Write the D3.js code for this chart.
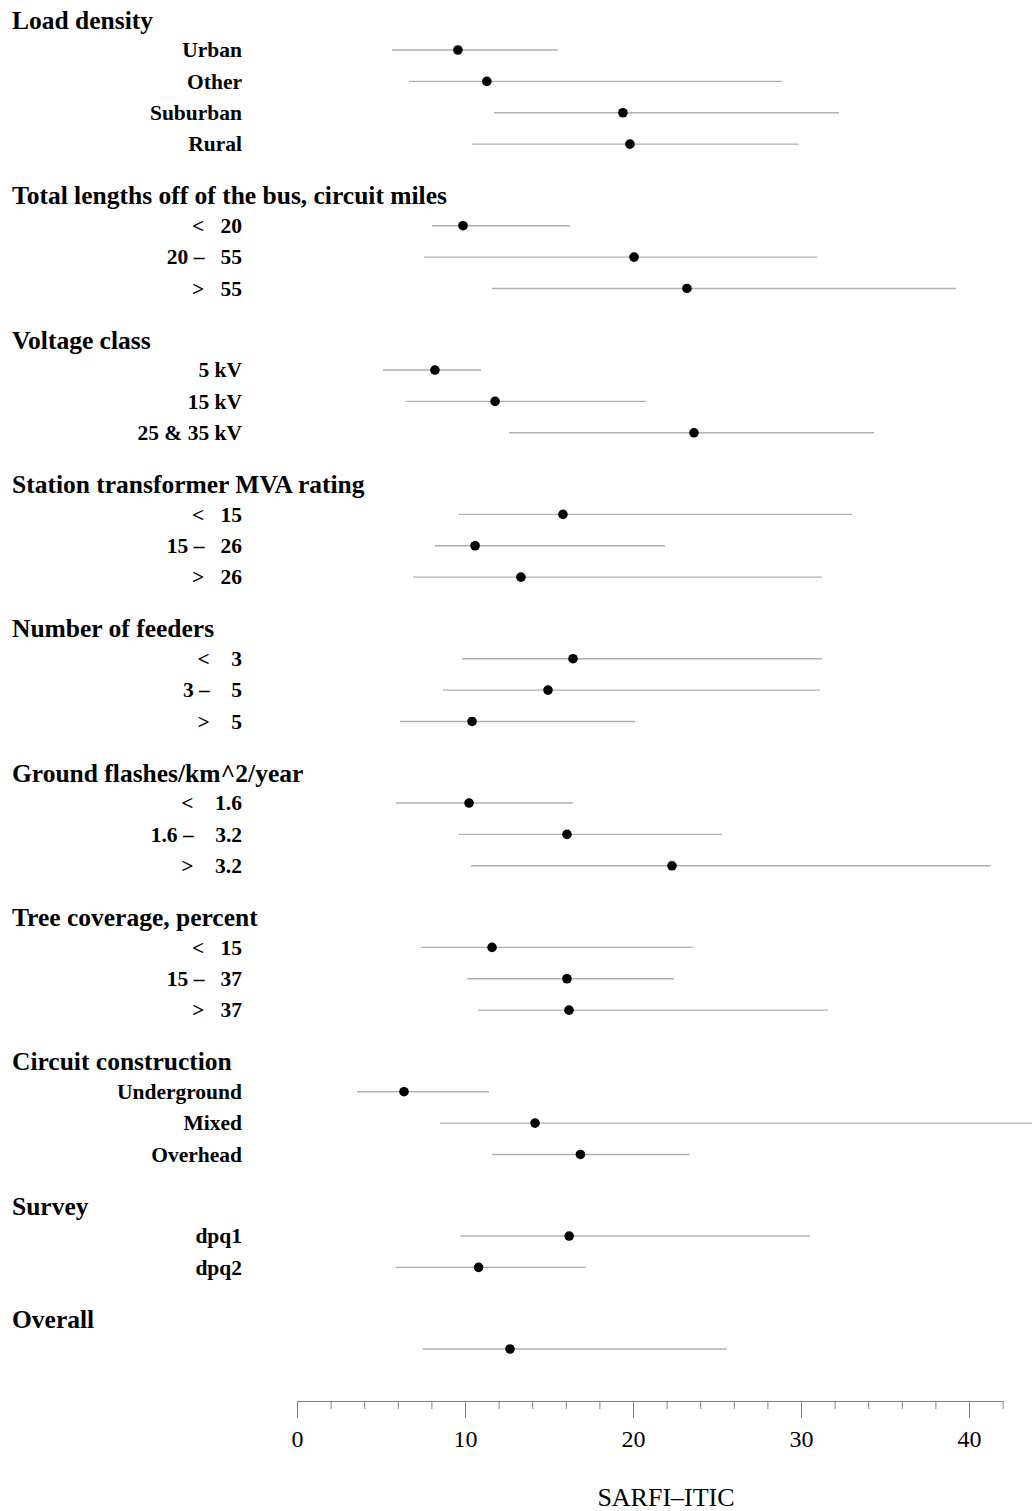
<!DOCTYPE html>
<html>
<head>
<meta charset="utf-8">
<script src="https://cdn.jsdelivr.net/npm/d3@7"></script>
<style>
  body { margin: 0; background: #fff; }
  text { font-family: "Liberation Serif", "Times New Roman", serif; }
  .lab { white-space: pre; }
</style>
</head>
<body>
<div id="chart"></div>
<script>
// groups shown as bold headings
var groups = [
    "Load density",
    "Total lengths off of the bus, circuit miles",
    "Voltage class",
    "Station transformer MVA rating",
    "Number of feeders",
    "Ground flashes/km^2/year",
    "Tree coverage, percent",
    "Circuit construction",
    "Survey",
    "Overall"
];

// one entry per row
var rowGroup = [0, 0, 0, 0, 1, 1, 1, 2, 2, 2, 3, 3, 3, 4, 4, 4, 5, 5, 5, 6, 6, 6, 7, 7, 7, 8, 8, 9];
var rowLabels = [
    "Urban", "Other", "Suburban", "Rural",
    "<   20", "20 \u2013   55", ">   55",
    "5 kV", "15 kV", "25 & 35 kV",
    "<   15", "15 \u2013   26", ">   26",
    "<    3", "3 \u2013    5", ">    5",
    "<    1.6", "1.6 \u2013    3.2", ">    3.2",
    "<   15", "15 \u2013   37", ">   37",
    "Underground", "Mixed", "Overhead",
    "dpq1", "dpq2",
    ""
];
var estimate = [9.58, 11.3, 19.4, 19.82,
    9.88, 20.06, 23.21,
    8.21, 11.79, 23.63,
    15.83, 10.6, 13.33,
    16.43, 14.94, 10.42,
    10.24, 16.07, 22.32,
    11.61, 16.07, 16.19,
    6.37, 14.17, 16.87,
    16.2, 10.81,
    12.68];
var lower = [5.65, 6.67, 11.73, 10.42,
    8.04, 7.56, 11.61,
    5.12, 6.49, 12.62,
    9.64, 8.21, 6.9,
    9.82, 8.69, 6.13,
    5.89, 9.64, 10.36,
    7.38, 10.12, 10.77,
    3.57, 8.51, 11.62,
    9.72, 5.87,
    7.48];
var upper = [15.54, 28.87, 32.26, 29.88,
    16.25, 30.95, 39.23,
    10.95, 20.77, 34.35,
    33.04, 21.9, 31.25,
    31.25, 31.13, 20.12,
    16.43, 25.3, 41.31,
    23.57, 22.44, 31.61,
    11.43, 46, 23.37,
    30.54, 17.2,
    25.58];

var majorTicks = [0, 10, 20, 30, 40];
var minorTicks = d3.range(0, 43, 2);
var xTitle = "SARFI\u2013ITIC";

var width = 1032, height = 1511;

var svg = d3.select("#chart")
    .append("svg")
    .attr("width", width)
    .attr("height", height);

var x = d3.scaleLinear()
    .domain([0, 42])
    .range([297, 1002.6]);

// row positions: 1 unit inside a group, bigger gap between groups
var pos = [], p = 0;
rowGroup.forEach(function(g, i) {
    if (i > 0) p += (g !== rowGroup[i - 1]) ? 2.6 : 1;
    pos.push(p);
});
var y = d3.scaleLinear()
    .domain([0, p])
    .range([50, 1349]);

// group headings
groups.forEach(function(name, gi) {
    var first = rowGroup.indexOf(gi);
    svg.append("text")
        .attr("x", 12)
        .attr("y", y(pos[first] - 0.96))
        .attr("dy", "0.34em")
        .style("font-size", "25.5px")
        .style("font-weight", "bold")
        .text(name);
});

// row labels
svg.selectAll(".lab")
    .data(rowLabels)
    .enter()
    .append("text")
    .attr("class", "lab")
    .attr("x", 242)
    .attr("y", function(d, i) { return y(pos[i]); })
    .attr("dy", "0.34em")
    .attr("text-anchor", "end")
    .style("font-size", "21.5px")
    .style("font-weight", "bold")
    .text(function(d) { return d; });

// interval lines
svg.selectAll(".ci")
    .data(estimate)
    .enter()
    .append("line")
    .attr("class", "ci")
    .attr("x1", function(d, i) { return x(lower[i]); })
    .attr("x2", function(d, i) { return x(upper[i]); })
    .attr("y1", function(d, i) { return y(pos[i]); })
    .attr("y2", function(d, i) { return y(pos[i]); })
    .attr("stroke", "#b0b0b0")
    .attr("stroke-width", 1.4);

// point estimates
svg.selectAll(".dot")
    .data(estimate)
    .enter()
    .append("circle")
    .attr("class", "dot")
    .attr("cx", function(d) { return x(d); })
    .attr("cy", function(d, i) { return y(pos[i]); })
    .attr("r", 4.8)
    .attr("fill", "#000");

// x axis: minor and major ticks
var axisY = 1401;
var gMinor = svg.append("g")
    .attr("transform", "translate(0," + axisY + ")")
    .call(d3.axisBottom(x).tickValues(minorTicks).tickSize(8).tickSizeOuter(0).tickFormat(""));
var gMajor = svg.append("g")
    .attr("transform", "translate(0," + axisY + ")")
    .call(d3.axisBottom(x).tickValues(majorTicks).tickSize(17).tickSizeOuter(0).tickPadding(12));
gMinor.select(".domain").remove();
svg.selectAll(".tick line").attr("stroke", "#808080");
gMajor.select(".domain").attr("stroke", "#808080");
gMajor.selectAll("text")
    .style("font-family", "'Liberation Serif', serif")
    .style("font-size", "24px")
    .attr("fill", "#000");

svg.append("text")
    .attr("x", 666)
    .attr("y", 1506)
    .attr("text-anchor", "middle")
    .style("font-size", "26px")
    .text(xTitle);
</script>
</body>
</html>
